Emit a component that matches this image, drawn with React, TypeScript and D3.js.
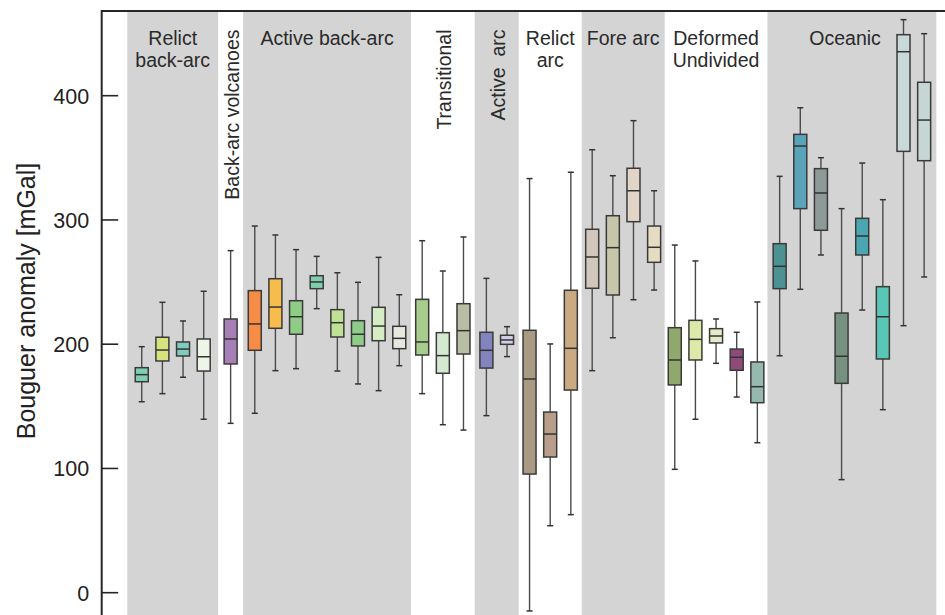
import React from 'react';
import * as d3 from 'd3';

// ---------- data ----------
const groupNames = [
  'Relict back-arc',
  'Back-arc volcanoes',
  'Active back-arc',
  'Transitional',
  'Active arc',
  'Relict arc',
  'Fore arc',
  'Deformed Undivided',
  'Oceanic',
];
const groupLabelLines = [
  ['Relict', 'back-arc'],
  ['Back-arc volcanoes'],
  ['Active back-arc'],
  ['Transitional'],
  ['Active\u00a0\u00a0arc'],
  ['Relict', 'arc'],
  ['Fore arc'],
  ['Deformed', 'Undivided'],
  ['Oceanic'],
];
const groupCounts = [4, 1, 8, 3, 2, 3, 4, 5, 8];
const groupShaded = [true, false, true, false, true, false, true, false, true];
const groupRotated = [false, true, false, true, true, false, false, false, false];
// group boundaries on the category axis (box slot units)
const groupEdges = [-0.71, 3.69, 4.9, 13.03, 16.12, 18.25, 21.3, 25.32, 30.3, 38.48];
const labelShift = [0, 0, 0, 0, 0, 0, 0, 0, -0.33];

const whiskerHigh = [
  198.0, 233.7, 218.7, 242.6,
  275.3,
  295.1, 287.9, 276.1, 270.7, 257.5, 249.8, 269.9, 239.8,
  283.3, 258.9, 286.3,
  253.0, 214.1,
  333.3, 200.2, 338.4,
  356.5, 335.6, 379.9, 323.5,
  279.8, 267.0, 220.3, 209.6, 234.0,
  335.1, 390.3, 350.1, 309.1, 345.8, 316.3, 461.2, 449.9,
];
const q3 = [
  181.1, 205.6, 201.8, 204.2,
  220.3,
  243.1, 252.7, 235.0, 255.1, 227.8, 218.9, 229.7, 214.4,
  236.1, 209.3, 232.6,
  209.6, 207.2,
  211.2, 145.4, 243.4,
  292.5, 303.4, 341.6, 295.1,
  213.3, 219.2, 212.5, 196.1, 185.7,
  280.9, 368.9, 341.3, 225.1, 301.3, 246.3, 449.1, 410.8,
];
const median = [
  175.5, 195.3, 196.1, 189.9,
  204.2,
  216.3, 229.9, 222.1, 250.1, 217.3, 208.0, 214.6, 204.7,
  201.8, 190.8, 210.9,
  195.1, 203.4,
  172.0, 127.7, 196.7,
  270.2, 277.7, 323.5, 278.0,
  187.3, 203.9, 206.6, 189.5, 165.8,
  262.7, 359.5, 321.7, 190.3, 287.1, 222.1, 435.4, 380.4,
];
const q1 = [
  169.8, 186.5, 190.5, 178.4,
  184.1,
  195.1, 212.8, 208.0, 244.7, 205.8, 198.6, 202.8, 196.4,
  191.3, 176.6, 192.1,
  180.8, 199.9,
  95.5, 109.2, 163.1,
  245.0, 239.6, 298.6, 265.9,
  167.2, 187.3, 201.0, 179.0, 152.9,
  244.7, 309.1, 291.7, 168.5, 271.8, 188.1, 355.2, 347.7,
];
const whiskerLow = [
  153.7, 160.2, 173.4, 139.6,
  136.3,
  144.4, 178.7, 180.3, 228.6, 178.4, 168.0, 162.6, 182.7,
  160.2, 135.2, 130.9,
  142.5, 190.0,
  -14.7, 53.9, 62.8,
  178.7, 205.2, 235.8, 243.6,
  99.3, 139.6, 184.6, 157.5, 120.7,
  190.7, 244.2, 271.8, 91.0, 227.5, 147.3, 214.9, 254.1,
];
const boxColors = [
  '#7fcdb5', '#d5e27e', '#7fcbbe', '#edf4e8',
  '#a77fb7',
  '#f68c46', '#f6bc4c', '#8fcc86', '#7fcfae', '#bfe095', '#8dcd89', '#d5ecc5', '#e6e7de',
  '#a8cc8c', '#d3ead0', '#b8bea3',
  '#8383be', '#d1cde6',
  '#a89a83', '#b89e8a', '#c9aa83',
  '#d1c7bb', '#c6c6ab', '#e0d5c6', '#e6dcc4',
  '#8fa86b', '#dde9a9', '#e3ecca', '#8e4a79', '#95b9ae',
  '#4d9293', '#5aa3b9', '#8e9a97', '#76917f', '#4aa7b1', '#5ac6b5', '#c9d9da', '#c6d6d4',
];
const yTicks = [0, 100, 200, 300, 400];
const yTitle = 'Bouguer anomaly [mGal]';

// ---------- layout ----------
const W = 945;
const H = 615;
const plotLeft = 101.7;
const plotTop = 11;
const FONT = '"Liberation Sans", Arial, Helvetica, sans-serif';

export default function App() {
  const x = d3.scaleLinear().domain([-1.95, 38.9]).range([plotLeft, W]);
  const y = d3.scaleLinear().domain([0, 400]).range([592.7, 95.7]);

  // box slots, centered within each group's band
  const slots: number[] = [];
  groupCounts.forEach((n, g) => {
    const c = (groupEdges[g] + groupEdges[g + 1]) / 2;
    for (let i = 0; i < n; i++) {
      slots.push(c + i - (n - 1) / 2);
    }
  });

  const boxW = 13;
  const capW = 6;

  return (
    <svg
      width={W}
      height={H}
      style={{ position: 'absolute', left: 0, top: 0, background: '#fff' }}
      fontFamily={FONT}
    >
      {/* shaded bands */}
      {groupNames.map((name, g) =>
        groupShaded[g] ? (
          <rect
            key={'band' + name}
            x={x(groupEdges[g])}
            y={plotTop}
            width={x(groupEdges[g + 1]) - x(groupEdges[g])}
            height={H - plotTop}
            fill="#d4d4d4"
          />
        ) : null
      )}

      {/* group labels */}
      {groupNames.map((name, g) => {
        const cx = x((groupEdges[g] + groupEdges[g + 1]) / 2 + labelShift[g]);
        if (groupRotated[g]) {
          return (
            <text
              key={'lab' + name}
              transform={`translate(${cx + 8},${29.5}) rotate(-90)`}
              textAnchor="end"
              fontSize={19.5}
              fill="#2a2a2a"
            >
              {groupLabelLines[g][0]}
            </text>
          );
        }
        return (
          <text key={'lab' + name} textAnchor="middle" fontSize={19.5} fill="#2a2a2a">
            {groupLabelLines[g].map((line, i) => (
              <tspan key={line} x={cx} y={44.5 + i * 22.3}>
                {line}
              </tspan>
            ))}
          </text>
        );
      })}

      {/* boxes */}
      {slots.map((s, i) => {
        const cx = x(s);
        const yHi = y(whiskerHigh[i]);
        const yLo = y(whiskerLow[i]);
        const yQ3 = y(q3[i]);
        const yQ1 = y(q1[i]);
        const yMed = y(median[i]);
        return (
          <g key={'box' + i}>
            <line x1={cx} x2={cx} y1={yHi} y2={yQ3} stroke="#4a4a4a" strokeWidth={1.4} />
            <line x1={cx} x2={cx} y1={yQ1} y2={yLo} stroke="#4a4a4a" strokeWidth={1.4} />
            <line x1={cx - capW / 2} x2={cx + capW / 2} y1={yHi} y2={yHi} stroke="#333" strokeWidth={1.5} />
            <line x1={cx - capW / 2} x2={cx + capW / 2} y1={yLo} y2={yLo} stroke="#333" strokeWidth={1.5} />
            <rect
              x={cx - boxW / 2}
              y={yQ3}
              width={boxW}
              height={yQ1 - yQ3}
              fill={boxColors[i]}
              stroke="#3a3a3a"
              strokeWidth={1.5}
            />
            <line x1={cx - boxW / 2} x2={cx + boxW / 2} y1={yMed} y2={yMed} stroke="#333" strokeWidth={1.5} />
          </g>
        );
      })}

      {/* axes frame */}
      <line x1={plotLeft} x2={W} y1={plotTop} y2={plotTop} stroke="#262626" strokeWidth={2} />
      <line x1={plotLeft} x2={plotLeft} y1={plotTop - 1} y2={H} stroke="#262626" strokeWidth={2} />
      {yTicks.map((t) => (
        <g key={'tick' + t}>
          <line x1={plotLeft} x2={plotLeft + 16.5} y1={y(t)} y2={y(t)} stroke="#262626" strokeWidth={1.6} />
          <text x={plotLeft - 12.5} y={y(t) + 7.8} textAnchor="end" fontSize={21.5} fill="#222">
            {t}
          </text>
        </g>
      ))}
      <text
        transform={`translate(35,${301}) rotate(-90)`}
        textAnchor="middle"
        fontSize={25}
        fill="#222"
      >
        {yTitle}
      </text>
    </svg>
  );
}
